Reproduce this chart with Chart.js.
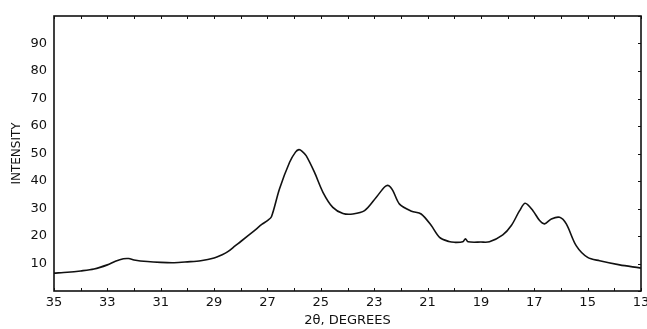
<!DOCTYPE html>
<html>
<head>
<meta charset="utf-8">
<script src="https://cdn.jsdelivr.net/npm/chart.js@4.4.0/dist/chart.umd.min.js"></script>
<style>
  html,body{margin:0;padding:0;background:#fff;}
  #wrap{width:647px;height:329px;}
</style>
</head>
<body>
<div id="wrap"><canvas id="c" width="647" height="329"></canvas></div>
<script>
// 2-theta positions (degrees) and intensity
var twoTheta = [35,34.5,34,33.5,33,32.7,32.4,32.2,32,31.5,31,30.5,30,29.5,29,28.7,28.5,28.2,28,27.5,27.2,27,26.85,
  26.55,26.17,25.95,25.82,25.7,25.55,25.24,24.92,24.55,24.17,23.8,23.36,22.92,22.6,22.45,22.3,22.05,21.6,21.24,
  20.86,20.55,20.2,19.99,19.68,19.58,19.48,19,18.68,18.18,17.86,17.55,17.34,17.05,16.8,16.62,16.36,16.05,15.8,
  15.43,15,14.55,13.8,13.05,13];
var intensity = [6.5,6.8,7.3,8,9.5,10.8,11.7,11.8,11.3,10.7,10.4,10.3,10.6,11,12,13.2,14.2,16.5,18,21.9,24.3,25.6,27,
  37.1,46.8,50.5,51.4,50.8,49.2,43.2,35.9,30.4,28.2,28,29.2,34.1,37.9,38.3,36.5,31.6,29,28,
  23.8,19.5,18,17.7,17.9,19,17.9,17.8,17.9,20.4,23.8,29.2,31.9,29.2,25.6,24.4,26.2,26.8,24.4,
  16.5,12.2,11,9.5,8.4,8.3];
var xTicks = [13,14,15,16,17,18,19,20,21,22,23,24,25,26,27,28,29,30,31,32,33,34,35];
var xLabels = [13,15,17,19,21,23,25,27,29,31,33,35];
var yTicks = [0,10,20,30,40,50,60,70,80,90,100];
var yLabels = [10,20,30,40,50,60,70,80,90];

var pts = twoTheta.map(function(t,i){return {x:t,y:intensity[i]};});

var frame = {
  id:'frame',
  afterDraw:function(chart){
    var ctx=chart.ctx, a=chart.chartArea, xs=chart.scales.x, ys=chart.scales.y;
    ctx.save();
    ctx.strokeStyle='#111';
    ctx.lineWidth=1.6;
    ctx.strokeRect(a.left,a.top,a.right-a.left,a.bottom-a.top);
    ctx.lineWidth=1;
    ctx.beginPath();
    xTicks.forEach(function(v){
      var px=Math.round(xs.getPixelForValue(v))+0.5;
      ctx.moveTo(px,a.bottom);ctx.lineTo(px,a.bottom-3);
      ctx.moveTo(px,a.top);ctx.lineTo(px,a.top+3);
    });
    yTicks.forEach(function(v){
      var py=Math.round(ys.getPixelForValue(v))+0.5;
      ctx.moveTo(a.right,py);ctx.lineTo(a.right-3,py);
    });
    ctx.stroke();
    ctx.restore();
  }
};

var ctx=document.getElementById('c').getContext('2d');
var myChart=new Chart(ctx,{
  type:'line',
  data:{datasets:[{data:pts,borderColor:'#111',borderWidth:1.6,pointRadius:0,tension:0.3,fill:false}]},
  options:{
    responsive:false,animation:false,
    layout:{padding:{top:16,right:6,left:0,bottom:0}},
    plugins:{legend:{display:false},tooltip:{enabled:false}},
    scales:{
      x:{type:'linear',reverse:true,min:13,max:35,
        afterFit:function(s){s.height=38;},
        afterBuildTicks:function(s){s.ticks=xTicks.map(function(v){return {value:v};});},
        grid:{display:false,drawTicks:false},border:{display:false},
        ticks:{autoSkip:false,maxRotation:0,padding:4,color:'#111',font:{family:'DejaVu Sans',size:13},
          callback:function(v){return xLabels.indexOf(v)>=0?String(v):'';}},
        title:{display:true,text:'2θ, DEGREES',color:'#111',font:{family:'DejaVu Sans',size:13},padding:{top:0,bottom:1}}
      },
      y:{type:'linear',min:0,max:100,
        afterFit:function(s){s.width=54;},
        afterBuildTicks:function(s){s.ticks=yTicks.map(function(v){return {value:v};});},
        grid:{display:false,drawTicks:false},border:{display:false},
        ticks:{autoSkip:false,padding:7,color:'#111',font:{family:'DejaVu Sans',size:13},
          callback:function(v){return yLabels.indexOf(v)>=0?String(v):'';}},
        title:{display:true,text:'INTENSITY',color:'#111',font:{family:'DejaVu Sans',size:12},padding:{top:10,bottom:0}}
      }
    }
  },
  plugins:[frame]
});
</script>
</body>
</html>
